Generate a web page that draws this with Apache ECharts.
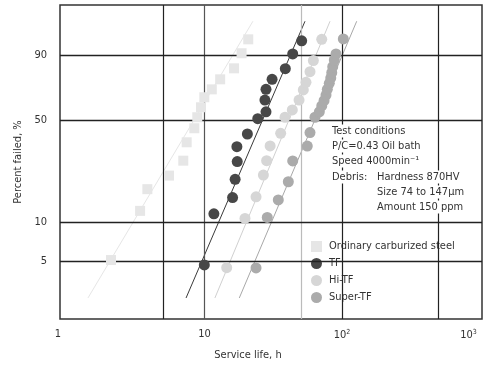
<!DOCTYPE html>
<html><head><meta charset="utf-8">
<script src="https://cdn.jsdelivr.net/npm/echarts@6/dist/echarts.min.js"></script>
<style>html,body{margin:0;padding:0;background:#fff}#c{width:484px;height:365px}</style>
</head><body><div id="c"></div>
<script>
// ---- data ----
const xTickValues = [1, 10, 100, 1000];
const xTickLabels = ['{n|1}{gl|}', '{n|10}', '{n|10}{s|2}', '{n|10}{s|3}{gr|}'];
const yTickValues = [5, 10, 50, 90];
const xGridLines = [5, 10, 50, 100, 500];
const yGridLines = [5, 10, 50, 90];
const seriesNames = ['Ordinary carburized steel', 'TF', 'Hi-TF', 'Super-TF'];

const ordinaryLife = [2.09, 3.40, 3.84, 5.52, 7.01, 7.42, 8.43, 8.86, 9.43, 9.97, 11.3, 13.0, 16.4, 18.6, 20.8];
const ordinaryPct  = [5.07, 12.1, 17.5, 21.9, 27.8, 36.7, 44.7, 51.6, 58.2, 65.0, 70.3, 76.8, 83.3, 90.6, 95.3];

const tfLife = [9.97, 11.7, 16.0, 16.7, 17.3, 17.2, 20.5, 24.4, 28.0, 27.5, 28.0, 31.0, 38.7, 43.8, 50.9];
const tfPct  = [4.64, 11.5, 15.2, 20.6, 27.4, 34.4, 41.3, 50.7, 55.2, 63.1, 70.3, 76.8, 83.1, 90.3, 94.9];

const hiLife = [14.5, 19.7, 23.7, 26.8, 28.3, 30.0, 35.8, 38.5, 43.5, 48.7, 52.3, 54.7, 58.5, 61.9, 71.2];
const hiPct  = [4.42, 10.6, 15.4, 22.1, 27.8, 34.8, 41.7, 51.6, 56.4, 63.1, 69.9, 74.9, 81.4, 87.3, 95.3];

const superLife = [23.7, 28.6, 34.4, 40.7, 43.8, 55.9, 58.5, 63.6, 68.4, 71.2, 74.0, 76.5, 78.2, 80.8, 82.8, 84.2, 85.6, 87.9, 90.4, 102.2];
const superPct  = [4.4, 10.8, 14.6, 19.8, 27.7, 34.7, 42.1, 51.6, 55.2, 59.1, 62.7, 66.5, 70.3, 74.3, 77.6, 80.8, 84.2, 87.6, 90.3, 95.4];

// fitted straight lines (end points)
const fitOrdinaryLife = [1.42, 22.5];
const fitTfLife = [7.34, 53.8];
const fitHiLife = [11.9, 81.8];
const fitSuperLife = [17.9, 127.9];
const fitPct = [2.55, 98.6];

// ---- helpers ----
const lg = v => Math.log10(v);
const wb = p => Math.log(-Math.log(1 - p / 100));
const pts = (life, pct) => life.map((t, i) => [lg(t), wb(pct[i])]);

const FONT = "'Liberation Sans Narrow','DejaVu Sans Condensed','Roboto Condensed',sans-serif";
const TXT = '#333';
const colors = ['#e6e6e6', '#474747', '#d6d6d6', '#ababab'];
const lineColors = ['#e6e6e6', '#3a3a3a', '#d0d0d0', '#a8a8a8'];
const vColors = ['#222', '#555', '#bbb', '#222', '#222'];

const chart = echarts.init(document.getElementById('c'), null, {renderer: 'canvas'});

function fitSeries(name, life, color) {
  return {
    name: name, type: 'line', data: pts(life, fitPct), symbol: 'none', silent: true,
    lineStyle: {color: color, width: 1}, z: 3, animation: false
  };
}
function scat(name, life, pct, color, symbol, size) {
  return {
    name: name, type: 'scatter', data: pts(life, pct), symbol: symbol, symbolSize: size,
    itemStyle: {color: color, opacity: 1}, z: 5, animation: false
  };
}

const textLines = [
  {t: 'Test conditions', x: 330, y: 131},
  {t: 'P/C=0.43 Oil bath', x: 330, y: 146},
  {t: 'Speed 4000min⁻¹', x: 330, y: 161},
  {t: 'Debris:', x: 330, y: 177},
  {t: 'Hardness 870HV', x: 375, y: 177},
  {t: 'Size 74 to 147μm', x: 375, y: 192},
  {t: 'Amount 150 ppm', x: 375, y: 207}
];

const option = {
  animation: false,
  backgroundColor: '#fff',
  textStyle: {fontFamily: FONT},
  grid: {left: 60, right: 2, top: 5, bottom: 46, show: true, borderColor: '#333', borderWidth: 1.5,
         backgroundColor: 'transparent', containLabel: false, outerBoundsMode: 'none'},
  xAxis: {
    type: 'value', min: -0.0509, max: 3.018,
    axisLine: {show: false}, axisTick: {show: false}, splitLine: {show: false},
    axisLabel: {
      customValues: xTickValues.map(lg), margin: 10,
      color: TXT, fontSize: 11, fontFamily: FONT,
      formatter: v => { const i = xTickValues.findIndex(t => Math.abs(lg(t) - v) < 1e-6); return i >= 0 ? xTickLabels[i] : ''; },
      rich: {
        n: {fontSize: 11, color: TXT, fontFamily: FONT},
        s: {fontSize: 7, verticalAlign: 'top', padding: [0, 0, 6, 0], color: TXT, fontFamily: FONT},
        gl: {width: 18, height: 1},
        gr: {width: 22, height: 1}
      }
    }
  },
  yAxis: {
    type: 'value', min: -4.044, max: 1.751,
    axisLine: {show: false}, axisTick: {show: false}, splitLine: {show: false},
    name: 'Percent failed, %', nameLocation: 'middle', nameGap: 35,
    nameTextStyle: {color: TXT, fontSize: 11, fontFamily: FONT},
    axisLabel: {
      customValues: yTickValues.map(wb), margin: 13,
      color: TXT, fontSize: 11, fontFamily: FONT,
      formatter: v => { const i = yTickValues.findIndex(p => Math.abs(wb(p) - v) < 1e-6); return i >= 0 ? String(yTickValues[i]) : ''; }
    }
  },
  legend: {
    data: seriesNames, orient: 'vertical', left: 306, top: 235, itemGap: 4,
    itemWidth: 11, itemHeight: 11, selectedMode: false,
    textStyle: {color: TXT, fontSize: 11, fontFamily: FONT, backgroundColor: '#fff', padding: [0, 2], lineHeight: 13}
  },
  graphic: {
    elements: textLines.map(o => ({
      type: 'text', x: o.x, y: o.y, z: 50, silent: true,
      style: {text: o.t, fill: TXT, fontSize: 11, fontFamily: FONT, verticalAlign: 'middle', backgroundColor: '#fff', padding: [1, 2]}
    })).concat([{
      type: 'text', x: 248, y: 355, z: 50, silent: true,
      style: {text: 'Service life, h', fill: TXT, fontSize: 11, fontFamily: FONT, align: 'center', verticalAlign: 'middle'}
    }])
  },
  series: [
    {
      name: 'gridlines', type: 'line', data: [[0, 0]], symbol: 'none', silent: true,
      lineStyle: {width: 0, opacity: 0}, z: 1,
      markLine: {
        silent: true, symbol: ['none', 'none'], label: {show: false}, animation: false,
        data: xGridLines.map((t, i) => ({xAxis: lg(t), lineStyle: {color: vColors[i], width: 1.2, type: 'solid'}}))
          .concat(yGridLines.map(p => ({yAxis: wb(p), lineStyle: {color: '#222', width: 1.3, type: 'solid'}})))
      }
    },
    fitSeries('fitOrdinary', fitOrdinaryLife, lineColors[0]),
    fitSeries('fitTF', fitTfLife, lineColors[1]),
    fitSeries('fitHi', fitHiLife, lineColors[2]),
    fitSeries('fitSuper', fitSuperLife, lineColors[3]),
    scat(seriesNames[0], ordinaryLife, ordinaryPct, colors[0], 'rect', 10),
    scat(seriesNames[1], tfLife, tfPct, colors[1], 'circle', 11),
    scat(seriesNames[2], hiLife, hiPct, colors[2], 'circle', 11),
    scat(seriesNames[3], superLife, superPct, colors[3], 'circle', 11)
  ]
};
chart.setOption(option);
</script></body></html>
